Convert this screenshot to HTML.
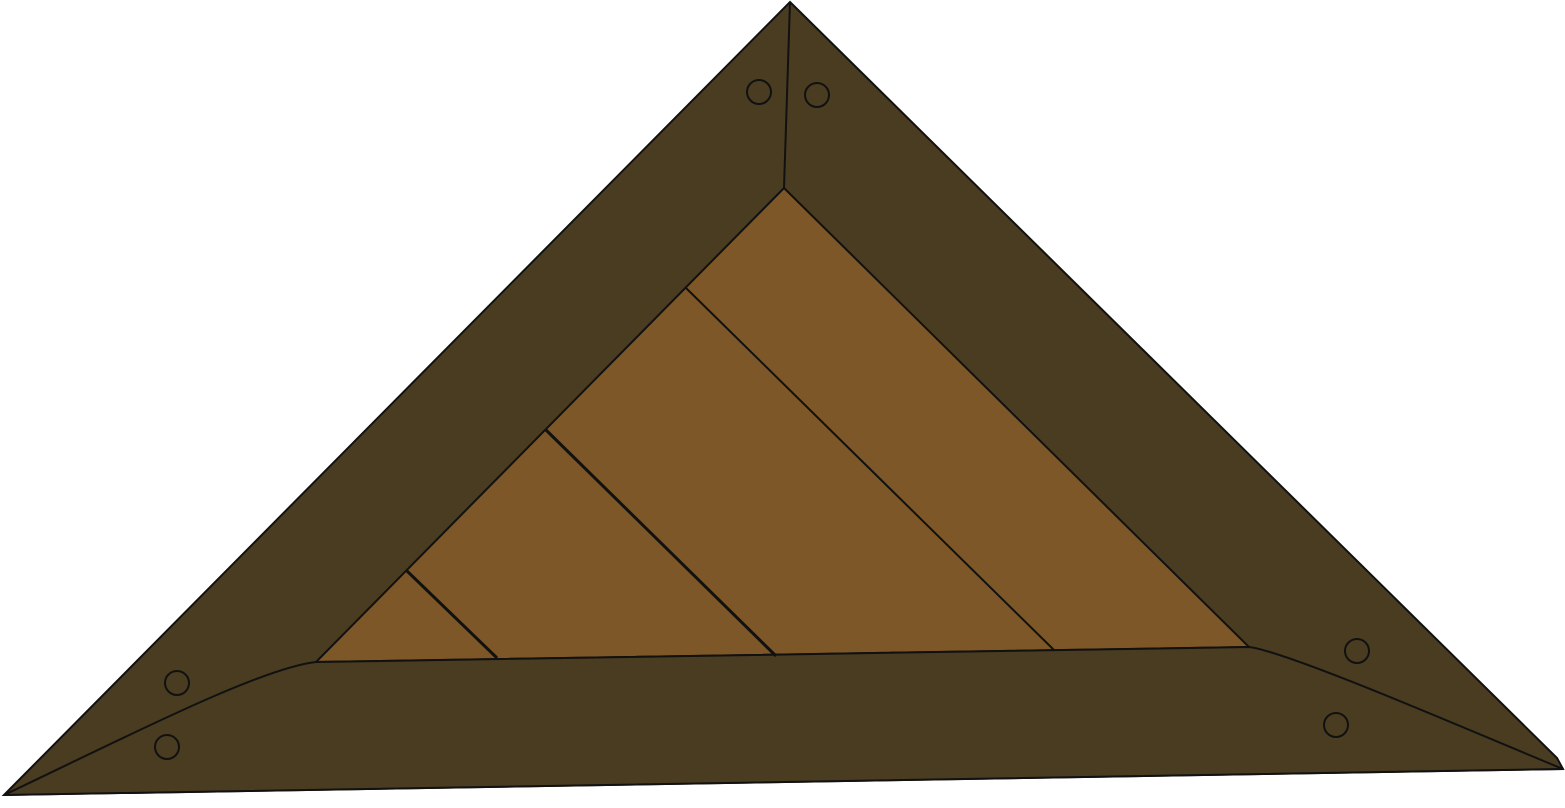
<!DOCTYPE html>
<html>
<head>
<meta charset="utf-8">
<style>
html,body{margin:0;padding:0;background:#fff;}
svg{display:block;}
</style>
</head>
<body>
<svg width="1565" height="808" viewBox="0 0 1565 808">
  <polygon points="790,2 1557,758 1563,769 4,795" fill="#4a3c20" stroke="#111" stroke-width="2"/>
  <polygon points="784,188 1249,647 316,662" fill="#7d5727" stroke="#111" stroke-width="2"/>
  <path d="M4,795 C120,740 260,668 316,662 L1249,647 C1290,652 1480,735 1563,769 Z" fill="#4a3c20" stroke="#111" stroke-width="2"/>
  <line x1="790" y1="2" x2="784" y2="188" stroke="#111" stroke-width="2"/>
  <line x1="686" y1="288" x2="1054" y2="650" stroke="#111" stroke-width="2"/>
  <line x1="546" y1="430" x2="776" y2="656" stroke="#111" stroke-width="3"/>
  <line x1="407" y1="571" x2="497" y2="658" stroke="#111" stroke-width="3"/>
  <g fill="none" stroke="#111" stroke-width="2">
    <circle cx="759" cy="92" r="12"/>
    <circle cx="817" cy="95" r="12"/>
    <circle cx="177" cy="683" r="12"/>
    <circle cx="167" cy="747" r="12"/>
    <circle cx="1357" cy="651" r="12"/>
    <circle cx="1336" cy="725" r="12"/>
  </g>
</svg>
</body>
</html>
